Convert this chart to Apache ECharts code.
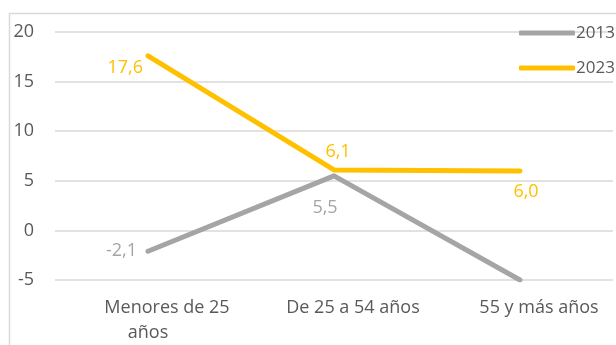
<!DOCTYPE html>
<html>
<head>
<meta charset="utf-8">
<script src="https://cdn.jsdelivr.net/npm/echarts@6/dist/echarts.min.js"></script>
<style>
  html, body { margin: 0; padding: 0; background: #fff; overflow: hidden; }
  #chart { width: 616px; height: 345px; }
</style>
</head>
<body>
<div id="chart"></div>
<script>
// Age groups on the x axis
const categories = ['Menores de 25\naños', 'De 25 a 54 años', '55 y más años'];
// Values per year
const values2013 = [-2.1, 5.5, -5.0];
const values2023 = [17.6, 6.1, 6.0];
// Which points carry a value label
const labels2013 = [true, true, false];
const labels2023 = [true, true, true];
const yTicks = { min: -5, max: 20, interval: 5 };

const FONT = 'Open Sans';
const TEXT = '#595959';
const GRAY = '#a5a5a5';
const GOLD = '#ffc000';

// Label placement per point: [position, offset]
const place2013 = [['left', [-6, 0]], ['bottom', [-9, 18]], ['bottom', [0, 0]]];
const place2023 = [['left', [0, 12]], ['top', [4, -4]], ['bottom', [6, 7]]];

function fmt(v) { return v.toFixed(1).replace('.', ','); }

function buildData(values, show, place, color) {
  return values.map((v, i) => ({
    value: v,
    label: {
      show: show[i],
      position: place[i][0],
      offset: place[i][1],
      formatter: p => fmt(p.value),
      color: color,
      fontFamily: FONT,
      fontSize: 18
    }
  }));
}

const chart = echarts.init(document.getElementById('chart'), null, { renderer: 'canvas' });
chart.setOption({
  animation: false,
  graphic: [{
    type: 'rect',
    shape: { x: 9.5, y: 13.5, width: 700, height: 400 },
    style: { fill: 'none', stroke: '#d9d9d9', lineWidth: 1.5 },
    z: -1
  }],
  grid: { left: 55, right: 3, top: 32, bottom: 65 },
  legend: {
    orient: 'vertical',
    left: 514,
    top: 18,
    itemWidth: 56,
    itemHeight: 5,
    itemGap: 15,
    icon: 'roundRect',
    textStyle: { color: TEXT, fontFamily: FONT, fontSize: 17, lineHeight: 20, padding: [0, 0, 0, -4] },
    data: ['2013', '2023']
  },
  xAxis: {
    type: 'category',
    data: categories,
    boundaryGap: true,
    axisLine: { show: false },
    axisTick: { show: false },
    axisLabel: {
      interval: 0,
      margin: 15,
      formatter: function (v) {
        const lines = v.split('\n');
        let s = '{a|' + lines[0] + '}';
        if (lines[1]) s += '\n{b|' + lines[1] + '}';
        return s;
      },
      rich: {
        a: { color: TEXT, fontFamily: FONT, fontSize: 18, lineHeight: 25, padding: [0, 0, 0, 38] },
        b: { color: TEXT, fontFamily: FONT, fontSize: 18, lineHeight: 25 }
      }
    }
  },
  yAxis: {
    type: 'value',
    min: yTicks.min,
    max: yTicks.max,
    interval: yTicks.interval,
    axisLine: { show: false },
    axisTick: { show: false },
    axisLabel: { color: TEXT, fontFamily: FONT, fontSize: 18, margin: 21 },
    splitLine: { lineStyle: { color: '#d9d9d9', width: 1.5 } }
  },
  series: [
    {
      name: '2013',
      type: 'line',
      data: buildData(values2013, labels2013, place2013, GRAY),
      symbol: 'circle',
      symbolSize: 0.1,
      itemStyle: { color: GRAY },
      lineStyle: { color: GRAY, width: 5, cap: 'round', join: 'round' },
      z: 2
    },
    {
      name: '2023',
      type: 'line',
      data: buildData(values2023, labels2023, place2023, GOLD),
      symbol: 'circle',
      symbolSize: 0.1,
      itemStyle: { color: GOLD },
      lineStyle: { color: GOLD, width: 5, cap: 'round', join: 'round' },
      z: 3
    }
  ]
});
</script>
</body>
</html>
